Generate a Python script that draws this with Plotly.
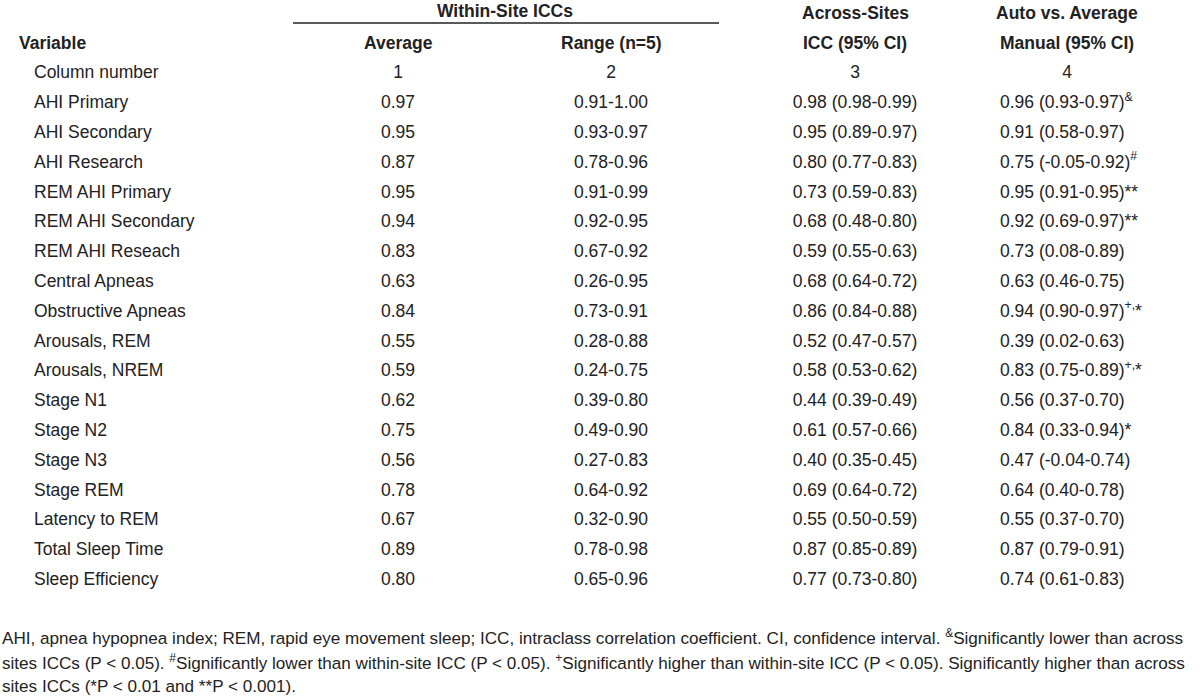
import plotly.graph_objects as go

# Table content
VARIABLES = [
    "AHI Primary", "AHI Secondary", "AHI Research", "REM AHI Primary",
    "REM AHI Secondary", "REM AHI Reseach", "Central Apneas", "Obstructive Apneas",
    "Arousals, REM", "Arousals, NREM", "Stage N1", "Stage N2", "Stage N3",
    "Stage REM", "Latency to REM", "Total Sleep Time", "Sleep Efficiency",
]
WITHIN_AVG = [
    "0.97", "0.95", "0.87", "0.95", "0.94", "0.83", "0.63", "0.84", "0.55",
    "0.59", "0.62", "0.75", "0.56", "0.78", "0.67", "0.89", "0.80",
]
WITHIN_RANGE = [
    "0.91-1.00", "0.93-0.97", "0.78-0.96", "0.91-0.99", "0.92-0.95", "0.67-0.92",
    "0.26-0.95", "0.73-0.91", "0.28-0.88", "0.24-0.75", "0.39-0.80", "0.49-0.90",
    "0.27-0.83", "0.64-0.92", "0.32-0.90", "0.78-0.98", "0.65-0.96",
]
ACROSS_ICC = [
    "0.98 (0.98-0.99)", "0.95 (0.89-0.97)", "0.80 (0.77-0.83)", "0.73 (0.59-0.83)",
    "0.68 (0.48-0.80)", "0.59 (0.55-0.63)", "0.68 (0.64-0.72)", "0.86 (0.84-0.88)",
    "0.52 (0.47-0.57)", "0.58 (0.53-0.62)", "0.44 (0.39-0.49)", "0.61 (0.57-0.66)",
    "0.40 (0.35-0.45)", "0.69 (0.64-0.72)", "0.55 (0.50-0.59)", "0.87 (0.85-0.89)",
    "0.77 (0.73-0.80)",
]
AUTO_MANUAL = [
    "0.96 (0.93-0.97)<sup>&</sup>", "0.91 (0.58-0.97)", "0.75 (-0.05-0.92)<sup>#</sup>",
    "0.95 (0.91-0.95)**", "0.92 (0.69-0.97)**", "0.73 (0.08-0.89)",
    "0.63 (0.46-0.75)", "0.94 (0.90-0.97)<sup>+,</sup>*", "0.39 (0.02-0.63)",
    "0.83 (0.75-0.89)<sup>+,</sup>*", "0.56 (0.37-0.70)", "0.84 (0.33-0.94)*",
    "0.47 (-0.04-0.74)", "0.64 (0.40-0.78)", "0.55 (0.37-0.70)", "0.87 (0.79-0.91)",
    "0.74 (0.61-0.83)",
]
COLUMN_NUMBERS = ["1", "2", "3", "4"]
FOOTNOTE = [
    "AHI, apnea hypopnea index; REM, rapid eye movement sleep; ICC, intraclass correlation coefficient. CI, confidence interval. <sup>&</sup>Significantly lower than across",
    "sites ICCs (P < 0.05). <sup>#</sup>Significantly lower than within-site ICC (P < 0.05). <sup>+</sup>Significantly higher than within-site ICC (P < 0.05). Significantly higher than across",
    "sites ICCs (*P < 0.01 and **P < 0.001).",
]

FONT = "Liberation Sans, Arial, sans-serif"
INK = "#222222"
SIZE = 17.5

# column x positions (screen-pixel axis)
X_LABEL, X_C1, X_C2, X_C3, X_C4, X_C4_HEAD = 34, 398, 611, 855, 1000, 1067
Y0, DY = 74, 29.8

rows_y = [Y0 + DY * (i + 1) for i in range(len(VARIABLES))]

fig = go.Figure()

def text_col(x, y, texts, pos):
    xs = x if isinstance(x, list) else [x] * len(texts)
    fig.add_trace(go.Scatter(
        x=xs, y=y, text=texts, mode="text",
        textposition=pos, textfont=dict(family=FONT, size=SIZE, color=INK),
        hoverinfo="skip", showlegend=False,
    ))

# column-number row
text_col(X_LABEL, [Y0], ["Column number"], "middle right")
text_col([X_C1, X_C2, X_C3, X_C4_HEAD], [Y0] * 4, COLUMN_NUMBERS, "middle center")

text_col(X_LABEL, rows_y, VARIABLES, "middle right")
text_col(X_C1, rows_y, WITHIN_AVG, "middle center")
text_col(X_C2, rows_y, WITHIN_RANGE, "middle center")
text_col(X_C3, rows_y, ACROSS_ICC, "middle center")
text_col(X_C4, rows_y, AUTO_MANUAL, "middle right")

# header
bold = dict(family=FONT, size=SIZE, color=INK)
headers = [
    (505, 11, "<b>Within-Site ICCs</b>", "center"),
    (17, 43, "<b>Variable</b>", "left"),
    (X_C1, 43, "<b>Average</b>", "center"),
    (X_C2, 43, "<b>Range (n=5)</b>", "center"),
    (X_C3, 13, "<b>Across-Sites</b>", "center"),
    (X_C3, 43, "<b>ICC (95% CI)</b>", "center"),
    (X_C4_HEAD, 13, "<b>Auto vs. Average</b>", "center"),
    (X_C4_HEAD, 43, "<b>Manual (95% CI)</b>", "center"),
]
for x, y, t, al in headers:
    fig.add_annotation(x=x, y=y, text=t, showarrow=False, xanchor=al,
                       yanchor="middle", font=bold)

fig.add_shape(type="line", x0=293, x1=719, y0=23, y1=23,
              line=dict(color=INK, width=1.4))

for i, line in enumerate(FOOTNOTE):
    fig.add_annotation(x=0, y=637 + 24.5 * i, text=line, showarrow=False,
                       xanchor="left", yanchor="middle",
                       font=dict(family=FONT, size=17.1, color=INK))

fig.update_xaxes(range=[0, 1200], visible=False, fixedrange=True)
fig.update_yaxes(range=[699, 0], visible=False, fixedrange=True)
fig.update_layout(
    width=1200, height=699, margin=dict(l=0, r=0, t=0, b=0),
    plot_bgcolor="white", paper_bgcolor="white", dragmode=False,
)

# drop the browser's default 8px body margin so the figure sits at the corner
fig.write_html(
    "out.html",
    config={"displayModeBar": False},
    post_script="document.body.style.margin='0';",
)
